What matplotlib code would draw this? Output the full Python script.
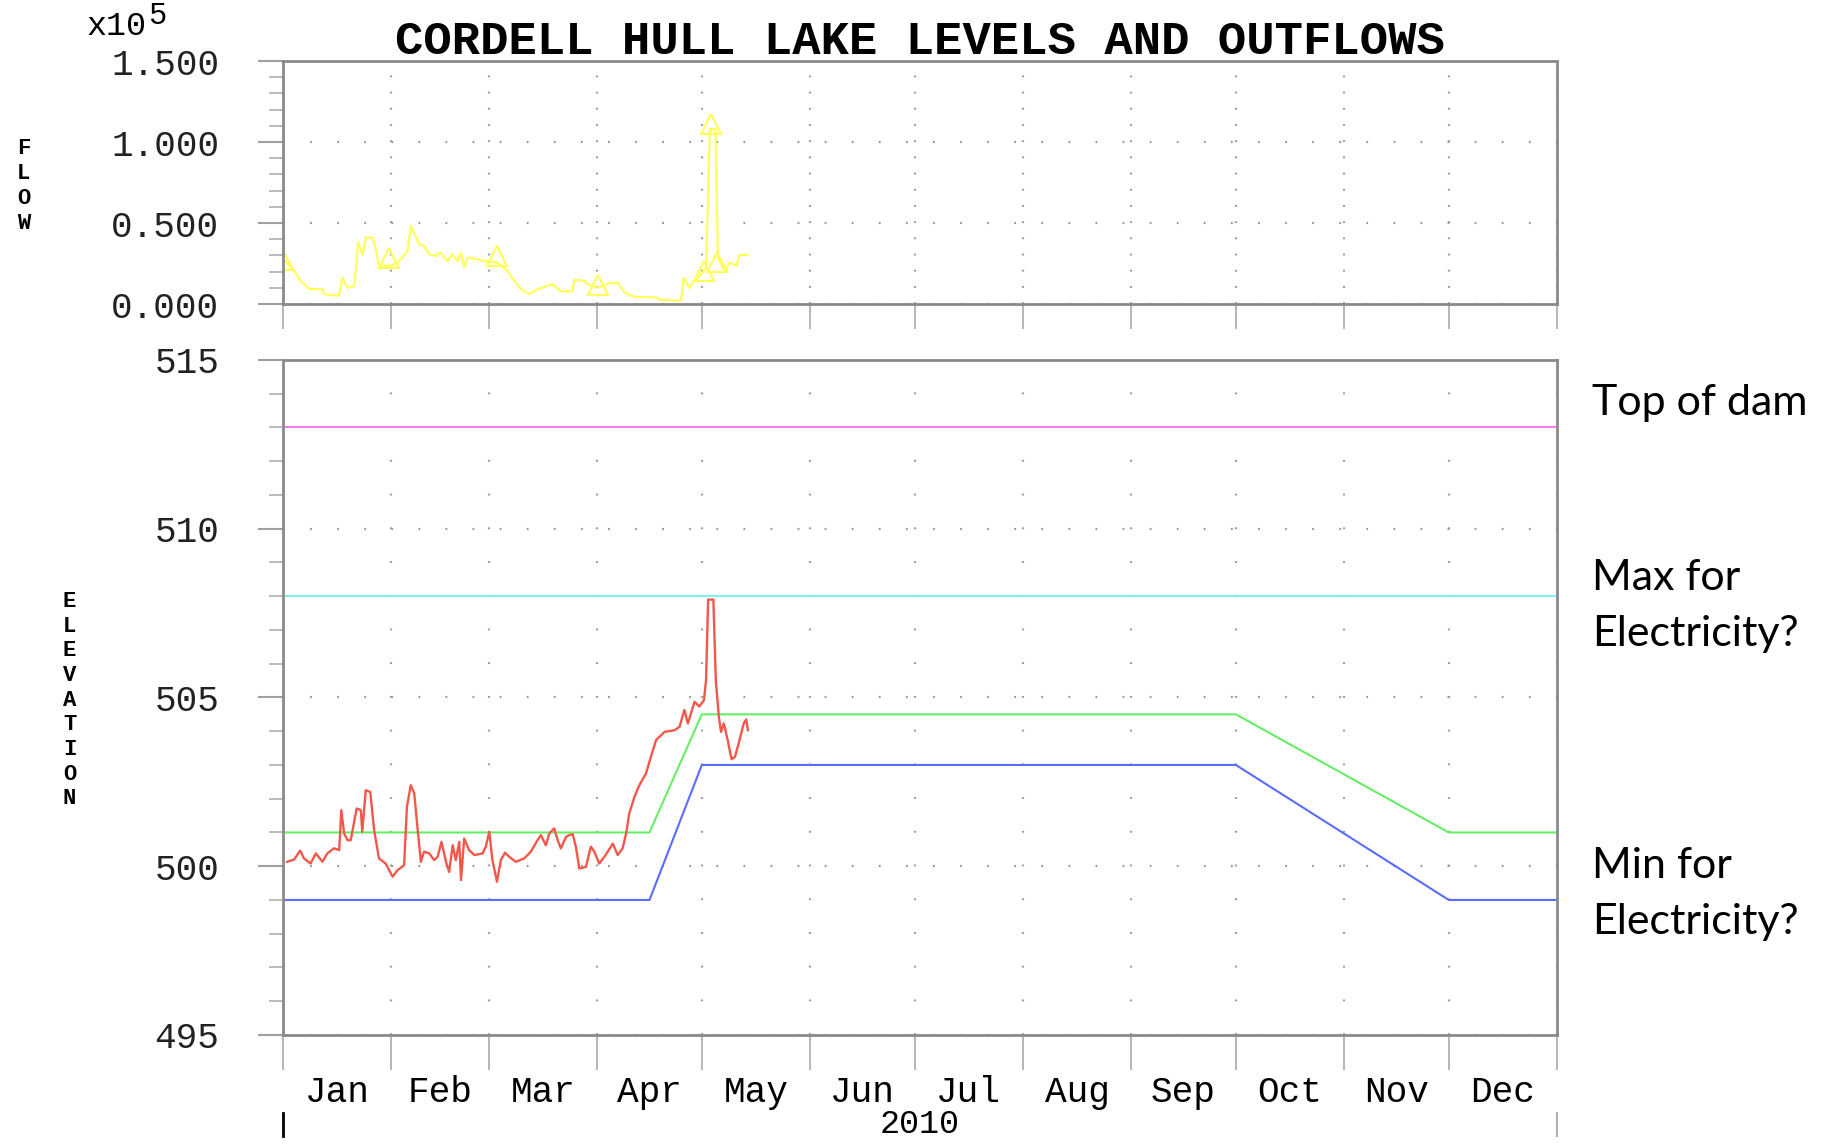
import matplotlib.pyplot as plt
import numpy as np

plt.rcParams['lines.scale_dashes'] = False
mono = 'Liberation Mono'

# day-of-year axis, 2010
month_starts = [0, 31, 59, 90, 120, 151, 181, 212, 243, 273, 304, 334, 365]
month_names = ['Jan', 'Feb', 'Mar', 'Apr', 'May', 'Jun',
               'Jul', 'Aug', 'Sep', 'Oct', 'Nov', 'Dec']
year_label = '2010'

# outflow (cfs)
flow_days = [0, 3.2, 5, 7.5, 11.3, 11.8, 16, 17, 18.5, 20.4,
             21.1, 21.5, 22.8, 23.7, 25.6, 26.6, 27.5, 30.9, 33.3, 35.7,
             36.6, 38, 39, 40.4, 41.9, 43.8, 45.2, 47.1, 48.6, 50,
             51, 51.9, 52.9, 55.7, 57.6, 61.5, 64.3, 66.3, 68.2, 70.6,
             73, 77.2, 79.6, 82.9, 83.5, 86.3, 87.3, 90.1, 93.5, 95.9,
             97.8, 100.6, 106.9, 107.8, 114, 114.8, 116.4, 117.9, 119.8, 121.2,
             121.7, 122.3, 123.9, 124.3, 124.6, 126.5, 128, 129.9, 130.8, 133.2]
flow_cfs = [28000, 20500, 14300, 9200, 9200, 6100, 5100, 16400, 10000, 11300,
            26600, 37900, 30700, 41000, 41000, 33800, 23600, 23600, 26600, 32800,
            48200, 42000, 36900, 35900, 30700, 29700, 31800, 26600, 30700, 26600,
            31800, 22600, 28700, 27700, 26600, 25600, 20500, 14300, 9200, 6100,
            9200, 12300, 7800, 7800, 15000, 14300, 12300, 10000, 12700, 13300,
            7200, 4500, 4100, 2700, 2000, 16400, 10000, 14300, 18500, 22600,
            61500, 108000, 108000, 61500, 28700, 20500, 25600, 23600, 30300, 30300]
marker_days = [0, 30.4, 61.2, 90.2, 120.5, 122.5, 124.3]
marker_cfs = [27000, 28300, 29500, 11500, 20500, 111000, 26000]

# pool elevation (ft)
elev_days = [1.2, 3.2, 4.9, 6, 7.9, 9.4, 11.3, 12.7, 14.6, 16.1,
             16.7, 17.5, 18.5, 19.4, 21.1, 22.3, 22.7, 23.7, 25, 26.1,
             27.5, 29.4, 31.4, 32.8, 34.7, 35.5, 36.6, 37.6, 38.5, 39.5,
             40.4, 41.9, 43.3, 44.3, 45.4, 46.7, 47.6, 48.6, 49.5, 50.5,
             51, 51.9, 53.3, 54.8, 57.2, 58.1, 59.1, 60, 61.3, 62.4,
             63.6, 64.8, 66.7, 69.1, 71, 72.9, 73.9, 75.3, 76.3, 77.7,
             78.7, 79.6, 81.1, 82, 83, 83.9, 84.9, 86.8, 88.2, 89.2,
             90.6, 92.1, 94.5, 95.9, 97.3, 98.3, 99.2, 100.7, 102.1, 104,
             105.4, 106.9, 109.3, 112.2, 113.6, 115, 116, 117.9, 119.3, 120.6,
             121.2, 121.8, 123.3, 124.0, 124.9, 125.5, 126.3, 127.4, 128.5, 129.5,
             130.8, 132, 132.7, 133.2]
elev_ft = [500.13, 500.2, 500.46, 500.23, 500.08, 500.38, 500.13, 500.38, 500.53, 500.48,
           501.66, 500.97, 500.77, 500.77, 501.71, 501.66, 501.02, 502.25, 502.2, 501.07,
           500.23, 500.08, 499.69, 499.88, 500.03, 501.76, 502.4, 502.16, 501.17, 500.13,
           500.43, 500.38, 500.18, 500.28, 500.72, 500.13, 499.83, 500.62, 500.18, 500.72,
           499.59, 500.82, 500.48, 500.33, 500.38, 500.58, 501.02, 500.18, 499.54, 500.18,
           500.4, 500.28, 500.13, 500.23, 500.43, 500.77, 500.92, 500.62, 500.97, 501.12,
           500.77, 500.53, 500.87, 500.92, 500.95, 500.58, 499.93, 499.98, 500.58, 500.43,
           500.08, 500.28, 500.67, 500.33, 500.53, 500.97, 501.56, 502.06, 502.4, 502.75,
           503.24, 503.74, 503.98, 504.03, 504.13, 504.63, 504.23, 504.87, 504.73, 504.92,
           505.5, 507.9, 507.9, 505.5, 504.4, 503.98, 504.23, 503.74, 503.17, 503.24,
           503.74, 504.23, 504.35, 504.03]

# guide curve band and fixed levels
rule_days = [0, 105, 120, 273, 334, 365]
rule_upper = [501, 501, 504.5, 504.5, 501, 501]
rule_lower = [499, 499, 503, 503, 499, 499]
top_of_dam = 513.0
max_power = 508.0

grid_col = '#9a9a9a'
spine_col = '#8a8a8a'

fig = plt.figure(figsize=(18.33, 11.46), dpi=100)
ax1 = fig.add_axes([0.1544, 0.7347, 0.695, 0.212])
ax2 = fig.add_axes([0.1544, 0.0969, 0.695, 0.589])


def style_axes(ax, vdash, xtick_len):
    for s in ax.spines.values():
        s.set_color(spine_col)
        s.set_linewidth(2)
    ax.set_xlim(0, 365)
    ax.set_xticks(month_starts)
    ax.tick_params(axis='x', which='major', length=xtick_len, width=1.3,
                   color='#b0b0b0', labelbottom=False)
    ax.tick_params(axis='y', which='major', length=18, width=1.5, color='#a0a0a0',
                   pad=28, labelsize=26, labelcolor='#222222')
    ax.tick_params(axis='y', which='minor', length=10, width=1.2, color='#b0b0b0')
    for lab in ax.get_yticklabels():
        lab.set_fontfamily(mono)
    ax.grid(axis='x', which='major', color=grid_col, lw=1.6,
            linestyle=(0, (1.3, vdash - 1.3)))
    ax.grid(axis='y', which='major', color=grid_col, lw=1.6,
            linestyle=(0, (1.3, 18.2)))
    ax.set_axisbelow(True)


# top panel: flow
ax1.plot(flow_days, flow_cfs, color='#ffff5c', lw=1.6)
ax1.plot(marker_days, marker_cfs, ls='none', marker='^', ms=15,
         mfc='none', mec='#ffff5c', mew=1.6)
ax1.set_ylim(0, 150000)
ax1.set_yticks([0, 50000, 100000, 150000])
ax1.set_yticks(np.arange(0, 150001, 10000), minor=True)
ax1.set_yticklabels([f'{v / 1e5:.3f}' for v in [0, 50000, 100000, 150000]])
style_axes(ax1, 11.66, 18)

# bottom panel: elevation
ax2.axhline(top_of_dam, color='#f27cf2', lw=1.5)
ax2.axhline(max_power, color='#80f0f4', lw=1.5)
ax2.plot(rule_days, rule_upper, color='#66ee66', lw=1.5)
ax2.plot(rule_days, rule_lower, color='#5a6cff', lw=1.5)
ax2.plot(elev_days, elev_ft, color='#f2584a', lw=1.7)
ax2.set_ylim(495, 515)
ax2.set_yticks([495, 500, 505, 510, 515])
ax2.set_yticks(np.arange(495, 516, 1), minor=True)
style_axes(ax2, 24.28, 25)

mids = [(a + b) / 2 for a, b in zip(month_starts[:-1], month_starts[1:])]
ax2.set_xticks(mids, minor=True)
ax2.set_xticklabels(month_names, minor=True)
ax2.tick_params(axis='x', which='minor', length=0, pad=29, labelsize=26,
                labelbottom=True)
for lab in ax2.get_xticklabels(minor=True):
    lab.set_fontfamily(mono)
ax2.set_xlabel(year_label, fontsize=24, fontfamily=mono, labelpad=-1)

# year separators
ax2.axvline(0, ymin=-0.15, ymax=-0.115, clip_on=False, color='black', lw=2)
ax2.axvline(365, ymin=-0.15, ymax=-0.115, clip_on=False, color='#b0b0b0', lw=1.5)

# titles and labels
fig.text(0.502, 0.963, 'CORDELL HULL LAKE LEVELS AND OUTFLOWS', ha='center',
         va='center', fontsize=34, fontweight='bold', fontfamily=mono)
fig.text(0.047, 0.977, 'x10', ha='left', va='center', fontsize=24, fontfamily=mono)
fig.text(0.081, 0.986, '5', ha='left', va='center', fontsize=22, fontfamily=mono)
fig.text(0.013, 0.838, 'F\nL\nO\nW', ha='center', va='center', fontsize=16,
         fontweight='bold', fontfamily=mono, linespacing=1.25)
fig.text(0.038, 0.389, 'E\nL\nE\nV\nA\nT\nI\nO\nN', ha='center', va='center',
         fontsize=16, fontweight='bold', fontfamily=mono, linespacing=1.23)

# side notes
note_kw = dict(ha='left', va='center', fontsize=31, fontfamily='Lato', linespacing=1.55)
fig.text(0.8685, 1 - 403 / 1146, 'Top of dam', **note_kw)
fig.text(0.8685, 1 - 606 / 1146, 'Max for\nElectricity?', **note_kw)
fig.text(0.8685, 1 - 894 / 1146, 'Min for\nElectricity?', **note_kw)

plt.savefig('out.png', dpi=100)
